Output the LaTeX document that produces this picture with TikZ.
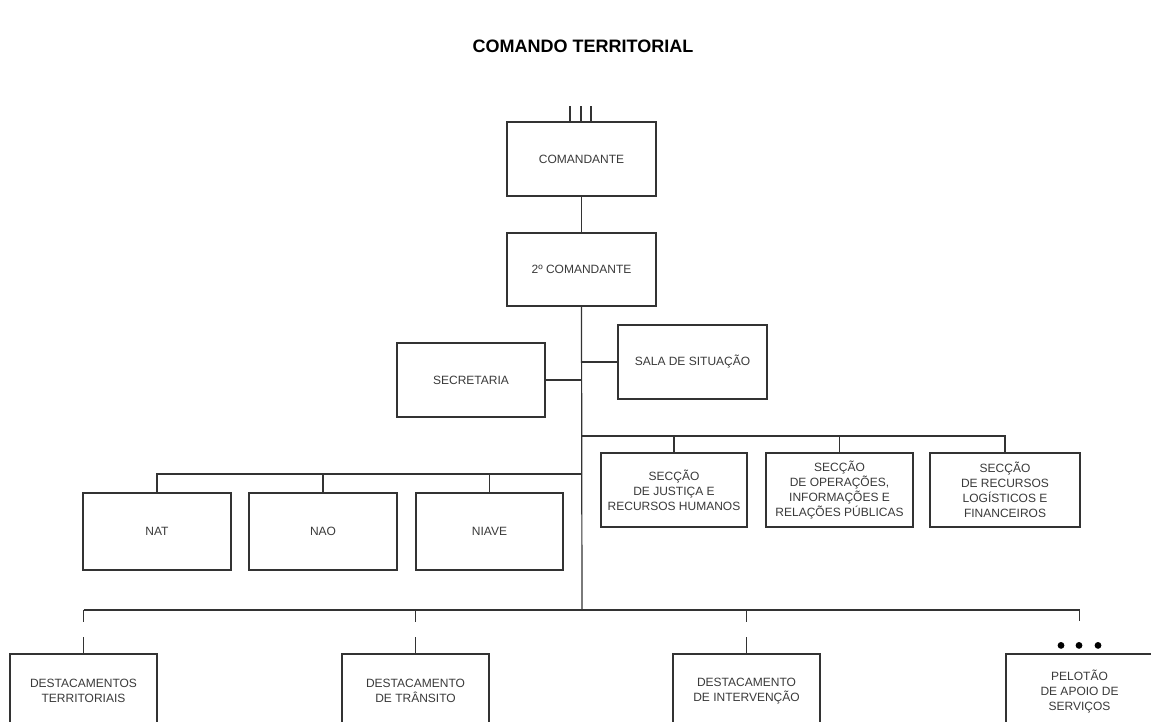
\documentclass[tikz,border=0pt]{standalone}
\usepackage{fontspec}
\newfontfamily\chartfont{Liberation Sans}
\definecolor{linec}{HTML}{333333}
\definecolor{textc}{HTML}{3A3A3A}
\begin{document}
\begin{tikzpicture}[x=1pt,y=-1pt,
  box/.style={draw=linec, line width=1.2pt, rectangle, minimum width=148pt, minimum height=74pt, inner sep=0pt, align=center, text=textc, font=\chartfont\fontsize{12}{15}\selectfont},
  conn/.style={draw=linec, line width=1.2pt},
  titlestyle/.style={font=\chartfont\bfseries\fontsize{18}{21}\selectfont, text=black, inner sep=0pt}]
\useasboundingbox (0,0) rectangle (1151,722);
\clip (0,0) rectangle (1151,722);
\fill[white] (0,0) rectangle (1151,722);

\node[titlestyle] (title) at (583,46) {COMANDO TERRITORIAL};

% top chain
\node[box, minimum width=149pt] (cmd) at (581.5,159) {COMANDANTE};
\node[box, minimum width=149pt, minimum height=73pt] (cmd2) at (581.5,269.5) {2º COMANDANTE};
\node[box] (sec) at (471,380) {SECRETARIA};
\node[box, minimum width=149pt] (sala) at (692.5,362) {SALA DE SITUAÇÃO};

% sections
\node[box, minimum width=146pt] (s1) at (674,490) {SECÇÃO\\DE JUSTIÇA E\\RECURSOS HUMANOS};
\node[box, minimum width=147pt] (s2) at (839.5,490) {SECÇÃO\\DE OPERAÇÕES,\\INFORMAÇÕES E\\RELAÇÕES PÚBLICAS};
\node[box, minimum width=150pt] (s3) at (1005,490) {SECÇÃO\\DE RECURSOS\\LOGÍSTICOS E\\FINANCEIROS};

% nuclei
\node[box, minimum height=77pt] (nat) at (157,531.5) {NAT};
\node[box, minimum height=77pt] (nao) at (323,531.5) {NAO};
\node[box, minimum width=147pt, minimum height=77pt] (niave) at (489.5,531.5) {NIAVE};

% detachments
\node[box, minimum width=147pt] (dt) at (83.5,691) {DESTACAMENTOS\\TERRITORIAIS};
\node[box, minimum width=147pt] (dtr) at (415.5,691) {DESTACAMENTO\\DE TRÂNSITO};
\node[box, minimum width=147pt] (di) at (746.5,691) {DESTACAMENTO\\DE INTERVENÇÃO};
\node[box, minimum width=147pt] (pel) at (1079.5,691) {PELOTÃO\\DE APOIO DE\\SERVIÇOS};

% bus coordinates
\coordinate (busS) at (582,436);
\coordinate (busN) at (582,474);
\coordinate (busD) at (582,610);

% III mark
\draw[conn] ([xshift=-11.5pt]cmd.north) -- ++(0,-15);
\draw[conn] ([xshift=-0.5pt]cmd.north) -- ++(0,-15);
\draw[conn] ([xshift=9.5pt]cmd.north) -- ++(0,-15);

% main spine
\draw[conn] (cmd.south) -- (cmd2.north);
\draw[conn] (cmd2.south) -- (busD);
\draw[conn] (sec.east) -- (sec.east -| busD);
\draw[conn] (sala.west) -- (sala.west -| busD);

% sections bus
\draw[conn] (busS) -| (s3.north);
\draw[conn] (s1.north) -- (s1.north |- busS);
\draw[conn] (s2.north) -- (s2.north |- busS);

% nuclei bus
\draw[conn] (busN) -| (nat.north);
\draw[conn] (nao.north) -- (nao.north |- busN);
\draw[conn] (niave.north) -- (niave.north |- busN);

% detachments bus
\coordinate (dtA) at (dt.north |- busD);
\coordinate (pelA) at (pel.north |- busD);
\draw[conn] (dtA) -- (pelA);
\foreach \n in {dt,dtr,di}{
  \draw[conn] (\n.north |- busD) -- ++(0,12);
  \draw[conn] (\n.north) -- ++(0,-16);
}
\draw[conn] (pelA) -- ++(0,11);
\foreach \dx in {-18.5,-0.5,18.5}
  \fill[black] ([xshift=\dx pt, yshift=8pt]pel.north) circle (3.4pt);
\end{tikzpicture}
\end{document}
